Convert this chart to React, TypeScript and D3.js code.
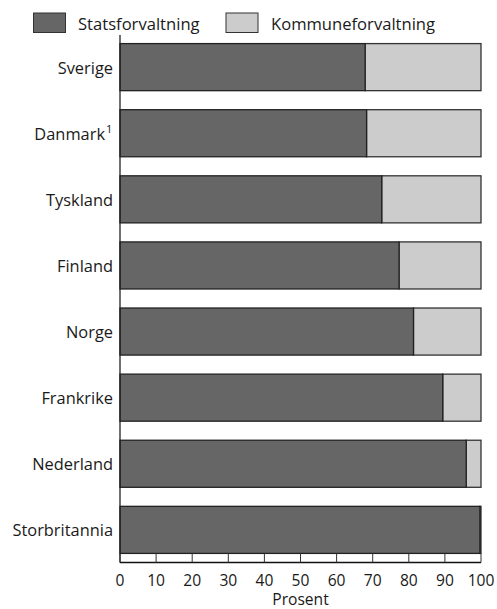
import React from "react";
import * as d3 from "d3";

const categories = ["Sverige", "Danmark", "Tyskland", "Finland", "Norge", "Frankrike", "Nederland", "Storbritannia"];
const statsValues = [67.9, 68.3, 72.5, 77.3, 81.3, 89.4, 95.9, 99.7];
const kommuneValues = statsValues.map((v) => 100 - v);
const seriesNames = ["Statsforvaltning", "Kommuneforvaltning"];
const seriesColors = ["#666666", "#cccccc"];
const xTicks = [0, 10, 20, 30, 40, 50, 60, 70, 80, 90, 100];
const superscripts: Record<string, string> = { Danmark: "1" };

const W = 497;
const H = 609;
const FONT = "'Open Sans', sans-serif";

export default function App() {
  const x = d3.scaleLinear().domain([0, 100]).range([120, 481]);
  const y = d3
    .scaleBand<string>()
    .domain(categories)
    .range([35, 562])
    .paddingInner(0.288)
    .paddingOuter(0.13);
  const bw = y.bandwidth();
  const axisY = 562.5;

  return (
    <svg
      width={W}
      height={H}
      style={{ position: "absolute", left: 0, top: 0, background: "#fff" }}
      fontFamily={FONT}
    >
      {/* Legend */}
      <g>
        <rect x={33.5} y={13} width={32} height={19.5} fill={seriesColors[0]} stroke="#333" strokeWidth={1} />
        <text x={78} y={29.5} fontSize={16.6} fill="#1a1a1a">{seriesNames[0]}</text>
        <rect x={226} y={13} width={32} height={19.5} fill={seriesColors[1]} stroke="#333" strokeWidth={1} />
        <text x={271} y={29.5} fontSize={16.6} fill="#1a1a1a">{seriesNames[1]}</text>
      </g>

      {/* Bars */}
      {categories.map((c, i) => {
        const y0 = y(c)!;
        const sv = statsValues[i];
        const kv = kommuneValues[i];
        return (
          <g key={c}>
            <rect
              x={x(sv)}
              y={y0}
              width={x(sv + kv) - x(sv)}
              height={bw}
              fill={seriesColors[1]}
              stroke="#333"
              strokeWidth={1.3}
            />
            <rect
              x={x(0)}
              y={y0}
              width={x(sv) - x(0)}
              height={bw}
              fill={seriesColors[0]}
              stroke="#222"
              strokeWidth={1.3}
            />
            <text
              x={superscripts[c] ? 105 : 113}
              y={y0 + bw / 2 + 6.5}
              fontSize={16.4}
              textAnchor="end"
              fill="#1a1a1a"
            >
              {c}
            </text>
            {superscripts[c] ? (
              <text x={106} y={y0 + bw / 2 - 0.5} fontSize={11} fill="#1a1a1a">
                {superscripts[c]}
              </text>
            ) : null}
          </g>
        );
      })}

      {/* Y axis line */}
      <line x1={x(0)} x2={x(0)} y1={35} y2={axisY} stroke="#222" strokeWidth={1.3} />

      {/* X axis */}
      <line x1={x(0)} x2={x(100)} y1={axisY} y2={axisY} stroke="#111" strokeWidth={1.5} />
      {xTicks.map((t) => (
        <g key={t}>
          <line x1={x(t)} x2={x(t)} y1={axisY} y2={axisY - 9} stroke="#333" strokeWidth={1} />
          <text x={x(t)} y={585.5} fontSize={15.6} textAnchor="middle" fill="#1a1a1a">
            {t}
          </text>
        </g>
      ))}
      <text x={(x(0) + x(100)) / 2} y={605} fontSize={15.6} textAnchor="middle" fill="#1a1a1a">
        Prosent
      </text>
    </svg>
  );
}
